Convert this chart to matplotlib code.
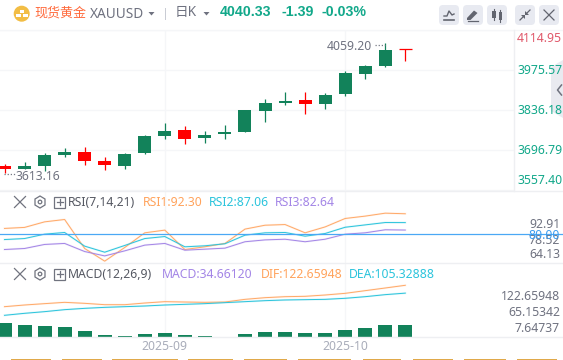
"""
Spot gold daily candles with RSI and MACD panels.
"""

import matplotlib
matplotlib.use('Agg')
import matplotlib.pyplot as plt
from matplotlib.patches import Circle, FancyBboxPatch, Polygon, Rectangle

W, H = 563, 360

opens = [3641.0, 3630.6, 3641.0, 3679.4, 3689.8, 3658.5, 3641.0, 3686.3, 3745.6, 3766.5, 3738.6,
         3752.5, 3759.5, 3832.7, 3860.6, 3871.0, 3857.1, 3891.9, 3961.6, 3989.5, 4047.7]
closes = [3631.6, 3641.0, 3679.4, 3689.8, 3658.5, 3645.6, 3682.9, 3745.6, 3763.0, 3735.1, 3749.1,
          3759.5, 3836.2, 3860.6, 3867.5, 3857.1, 3888.5, 3965.1, 3989.5, 4045.3, 4047.7]
highs = [3648.0, 3655.0, 3687.4, 3703.8, 3707.2, 3672.4, 3686.3, 3749.1, 3790.9, 3780.4, 3763.0,
         3783.9, 3836.2, 3874.5, 3898.9, 3898.9, 3895.4, 3972.1, 3993.0, 4068.6, 4047.7]
lows = [3616.6, 3630.6, 3624.7, 3673.4, 3645.6, 3627.1, 3630.6, 3682.9, 3735.1, 3717.7, 3721.2,
        3735.1, 3759.5, 3794.4, 3853.6, 3822.2, 3839.7, 3885.0, 3944.2, 3986.0, 4006.9]
down_days = [0, 4, 5, 9, 15, 20]

rsi1 = [83.6, 84.2, 87.5, 88.9, 71.7, 64.2, 72.3, 81.0, 82.6, 71.1, 72.7,
        74.7, 83.2, 85.5, 85.9, 81.0, 84.5, 89.5, 90.9, 92.65, 92.3]
rsi2 = [77.0, 77.6, 80.2, 81.2, 73.1, 69.5, 73.5, 77.6, 78.8, 72.7, 73.3,
        74.5, 79.6, 81.0, 81.2, 79.0, 80.6, 84.3, 85.7, 87.1, 87.06]
rsi3 = [71.1, 71.7, 74.1, 74.7, 69.9, 67.3, 70.3, 73.7, 74.7, 70.7, 71.3,
        71.9, 75.7, 76.8, 77.2, 75.7, 77.2, 80.2, 81.0, 82.8, 82.64]

dif = [75.4, 79.1, 82.1, 85.0, 82.8, 79.8, 79.8, 83.5, 86.5, 85.7, 85.0,
       85.7, 91.6, 95.3, 97.5, 98.3, 101.2, 104.9, 110.8, 116.7, 122.66]
dea = [56.3, 60.7, 64.4, 68.8, 71.7, 73.9, 75.4, 76.9, 79.1, 80.6, 82.1,
       84.3, 86.5, 88.7, 90.2, 90.9, 91.6, 93.9, 97.5, 102.0, 105.33]
macd = [39.3, 34.9, 32.7, 30.5, 21.6, 12.8, 10.6, 15.0, 17.2, 12.8, 10.6,
        6.5, 15.0, 19.4, 19.4, 17.2, 17.2, 23.9, 28.3, 34.9, 34.66]

price_ticks = [4114.95, 3975.57, 3836.18, 3696.79, 3557.40]
month_days = [8, 17]
month_labels = ['2025-09', '2025-10']

GREEN = '#12825a'
RED = '#ff0000'
TEAL = '#12a88a'
GRID = '#f5f6f8'
SEP = '#eeeff2'
GRAY = '#6f7280'
ORANGE = '#ffa35c'
CYAN = '#2bc4dc'
PURPLE = '#a385e6'
LINE_PX = 0.72

# pixel position of candle 0 and the spacing between candles
X0, STEP = 4.5, 20.04


def panel(fig, top, bottom, right):
    ax = fig.add_axes([0, 1 - bottom / H, right / W, (bottom - top) / H])
    ax.set_xlim(-X0 / STEP, (right - X0) / STEP)
    ax.axis('off')
    for d in month_days:
        ax.axvline(d, color=GRID, lw=1.0, zorder=0)
    return ax


def draw_candles(ax):
    ax.set_ylim(3975.57 - 121 * 3.4848, 4114.95)
    for tick in price_ticks:
        ax.axhline(tick, color=GRID, lw=1.0, zorder=0)
    days = range(len(opens))
    colors = [RED if d in down_days else GREEN for d in days]
    ax.vlines(days, lows, highs, colors=colors, lw=0.9, zorder=2)
    for d in days:
        bottom = min(opens[d], closes[d])
        height = abs(opens[d] - closes[d])
        if height == 0:
            ax.hlines(opens[d], d - 0.32, d + 0.32, colors=colors[d], lw=0.9, zorder=3)
        else:
            ax.bar(d, height, 0.65, bottom=bottom, color=colors[d], zorder=3)


def draw_line(ax, values, color):
    days = range(len(values))
    ax.plot(days, values, color=color, lw=1.5, alpha=0.15, zorder=2)
    ax.plot(days, values, color=color, lw=0.7, zorder=3)


def draw_rsi(ax):
    ax.set_ylim(80 - 28.8 * 0.593, 80 + 43.5 * 0.593)
    draw_line(ax, rsi1, '#ffa968')
    draw_line(ax, rsi2, CYAN)
    draw_line(ax, rsi3, PURPLE)
    ax.axhline(80, color='#4aa8f5', lw=0.9, zorder=4)


def draw_macd(ax):
    ax.set_ylim(7.7, 171.3)
    ax.bar(range(len(macd)), macd, 0.7, color=GREEN, zorder=2)
    draw_line(ax, dif, '#ffa968')
    draw_line(ax, dea, CYAN)


def put(ax, x, y, s, color=GRAY, size=8.8, ha='left', weight='normal'):
    families = ['Noto Sans', 'Noto Sans CJK SC']
    if weight == 'bold':
        families = ['Liberation Sans']
    ax.text(x, y, s, color=color, fontsize=size, ha=ha, va='center', fontweight=weight,
            family=families)


def draw_caret(ax, x, y):
    ax.add_patch(Polygon([(x - 3, y - 1.5), (x + 3, y - 1.5), (x, y + 2)], color=GRAY, lw=0))


def draw_cross(ax, x, y, r, color='#70737f'):
    ax.plot([x - r, x + r], [y - r, y + r], color=color, lw=0.9)
    ax.plot([x - r, x + r], [y + r, y - r], color=color, lw=0.9)


def draw_panel_icons(ax, y):
    draw_cross(ax, 20, y, 5.5)
    hexagon = [(40, y - 6), (45, y - 3), (45, y + 3), (40, y + 6), (35, y + 3), (35, y - 3)]
    ax.add_patch(Polygon(hexagon, fill=False, ec='#70737f', lw=0.9))
    ax.add_patch(Circle((40, y), 1.8, fill=False, ec='#70737f', lw=0.9))
    ax.add_patch(Rectangle((54, y - 5.5), 11, 11, fill=False, ec='#70737f', lw=0.9))
    ax.plot([56.5, 62.5], [y, y], color='#70737f', lw=0.9)
    ax.plot([59.5, 59.5], [y - 3, y + 3], color='#70737f', lw=0.9)


def draw_buttons(ax):
    for left in [439, 463, 487, 515, 539]:
        ax.add_patch(FancyBboxPatch((left + 3, 8), 14, 14, boxstyle='round,pad=3,rounding_size=4',
                                    fc='#e8eaf1', ec='none'))
    dark = '#62656f'
    ax.plot([444, 447, 449, 452, 454], [16, 16, 11, 15, 14], color=dark, lw=1.0)
    ax.plot([444, 454], [19.5, 19.5], color=dark, lw=1.2)
    ax.add_patch(Polygon([(467, 18), (474, 10.5), (477.5, 13), (470.5, 20), (467, 20)], color=dark, lw=0))
    ax.plot([468, 478], [20.5, 20.5], color=dark, lw=0.9)
    ax.add_patch(Rectangle((492, 10.5), 3.5, 7, color=dark, lw=0))
    ax.plot([493.7, 493.7], [8.5, 19.5], color=dark, lw=0.8)
    ax.add_patch(Rectangle((498.5, 12), 3.5, 8, color=dark, lw=0))
    ax.plot([500.2, 500.2], [10, 22], color=dark, lw=0.8)
    ax.plot([520, 524], [20, 16], color=dark, lw=0.9)
    ax.plot([526, 530], [14, 10], color=dark, lw=0.9)
    ax.add_patch(Polygon([(525, 15), (525, 11), (529, 15)], color=dark, lw=0))
    ax.add_patch(Polygon([(525, 15), (521, 15), (525, 19)], color=dark, lw=0))
    draw_cross(ax, 549, 15, 5, color=dark)


def draw_overlay(ax):
    # header
    ax.add_patch(Circle((21.7, 13.7), 8, color='#f2bd45', lw=0))
    ax.add_patch(Rectangle((19.5, 9.5), 4.5, 3, color='white', lw=0))
    ax.add_patch(Rectangle((16, 14), 5, 2.5, color='white', lw=0))
    ax.add_patch(Rectangle((22.7, 14), 5, 2.5, color='white', lw=0))
    put(ax, 34, 13, '现货黄金', color='#ff6b3d', size=9.4)
    put(ax, 90, 14, 'XAUUSD', size=9.8)
    draw_caret(ax, 151.5, 13.5)
    ax.plot([165, 165], [8, 19], color='#c9ccd4', lw=LINE_PX)
    put(ax, 175, 12.5, '日K', size=9.8)
    draw_caret(ax, 206.5, 13.5)
    put(ax, 220, 12.5, '4040.33', color=TEAL, size=10.2, weight='bold')
    put(ax, 282, 12.5, '-1.39', color=TEAL, size=10.2, weight='bold')
    put(ax, 321, 12.5, '-0.03%', color=TEAL, size=10.2, weight='bold')
    draw_buttons(ax)

    # panel borders
    ax.plot([0, W], [29.5, 29.5], color=GRID, lw=1.0)
    ax.plot([513.7, 513.7], [30, 191], color=SEP, lw=1.0)
    for y in [191, 263.3, 337.3]:
        ax.plot([0, W], [y, y], color=SEP, lw=1.0)

    # collapse handle
    ax.add_patch(Polygon([(563, 60), (551, 67), (551, 111), (563, 118)], color='#e9eaf0', lw=0, zorder=1))
    ax.plot([561.5, 557.5, 561.5], [85, 90, 95], color='#70737f', lw=1.1)

    # price axis
    put(ax, 517, 38, '4114.95', color='#e0596b')
    for y, tick in zip([71, 111, 151, 181], price_ticks[1:]):
        put(ax, 517, y, '%.2f' % tick, color=TEAL)

    # high and low markers
    put(ax, 372, 47, '4059.20', ha='right')
    ax.plot([375, 385], [44.5, 44.5], color='#777a85', lw=0.9, ls=(0, (1, 1.5)))
    put(ax, 16, 176.5, '3613.16')
    ax.plot([4, 15], [174, 174], color='#777a85', lw=0.9, ls=(0, (1, 1.5)))

    # RSI texts
    draw_panel_icons(ax, 202)
    put(ax, 68, 202.5, 'RSI(7,14,21)', color='#555862')
    put(ax, 143, 202.5, 'RSI1:92.30', color=ORANGE)
    put(ax, 209, 202.5, 'RSI2:87.06', color=CYAN)
    put(ax, 275, 202.5, 'RSI3:82.64', color=PURPLE)
    put(ax, 560, 224.5, '92.91', ha='right')
    put(ax, 560, 240.5, '78.52', ha='right')
    put(ax, 560, 235.5, '80.00', color='#3d9df0', ha='right')
    put(ax, 560, 254.5, '64.13', ha='right')

    # MACD texts
    draw_panel_icons(ax, 274)
    put(ax, 68, 274.5, 'MACD(12,26,9)', color='#555862')
    put(ax, 162, 274.5, 'MACD:34.66120', color=PURPLE)
    put(ax, 261, 274.5, 'DIF:122.65948', color=ORANGE)
    put(ax, 349, 274.5, 'DEA:105.32888', color=CYAN)
    put(ax, 560, 296.5, '122.65948', ha='right')
    put(ax, 560, 312.5, '65.15342', ha='right')
    put(ax, 560, 328.5, '7.64737', ha='right')

    # time axis
    for d, label in zip(month_days, month_labels):
        put(ax, X0 + d * STEP, 346, label, color='#a9adba', ha='center')

    # tops of the buttons cut off below the chart
    for left, right in [(11, 51), (62, 102), (112, 178), (188, 233), (244, 287),
                        (298, 351), (363, 401), (413, 453), (464, 506), (517, 557)]:
        ax.add_patch(Rectangle((left, 359), right - left, 1, color='#e0a94a', lw=0))


def main():
    fig = plt.figure(figsize=(W / 100, H / 100), dpi=100, facecolor='white')
    ax_price = panel(fig, 30, 191, 513.7)
    ax_rsi = panel(fig, 191, 263.3, W)
    ax_macd = panel(fig, 263.3, 337.3, W)
    draw_candles(ax_price)
    draw_rsi(ax_rsi)
    draw_macd(ax_macd)

    overlay = fig.add_axes([0, 0, 1, 1], zorder=5)
    overlay.set_xlim(0, W)
    overlay.set_ylim(H, 0)
    overlay.axis('off')
    overlay.patch.set_alpha(0)
    draw_overlay(overlay)

    plt.savefig('out.png', dpi=100)


if __name__ == '__main__':
    main()
